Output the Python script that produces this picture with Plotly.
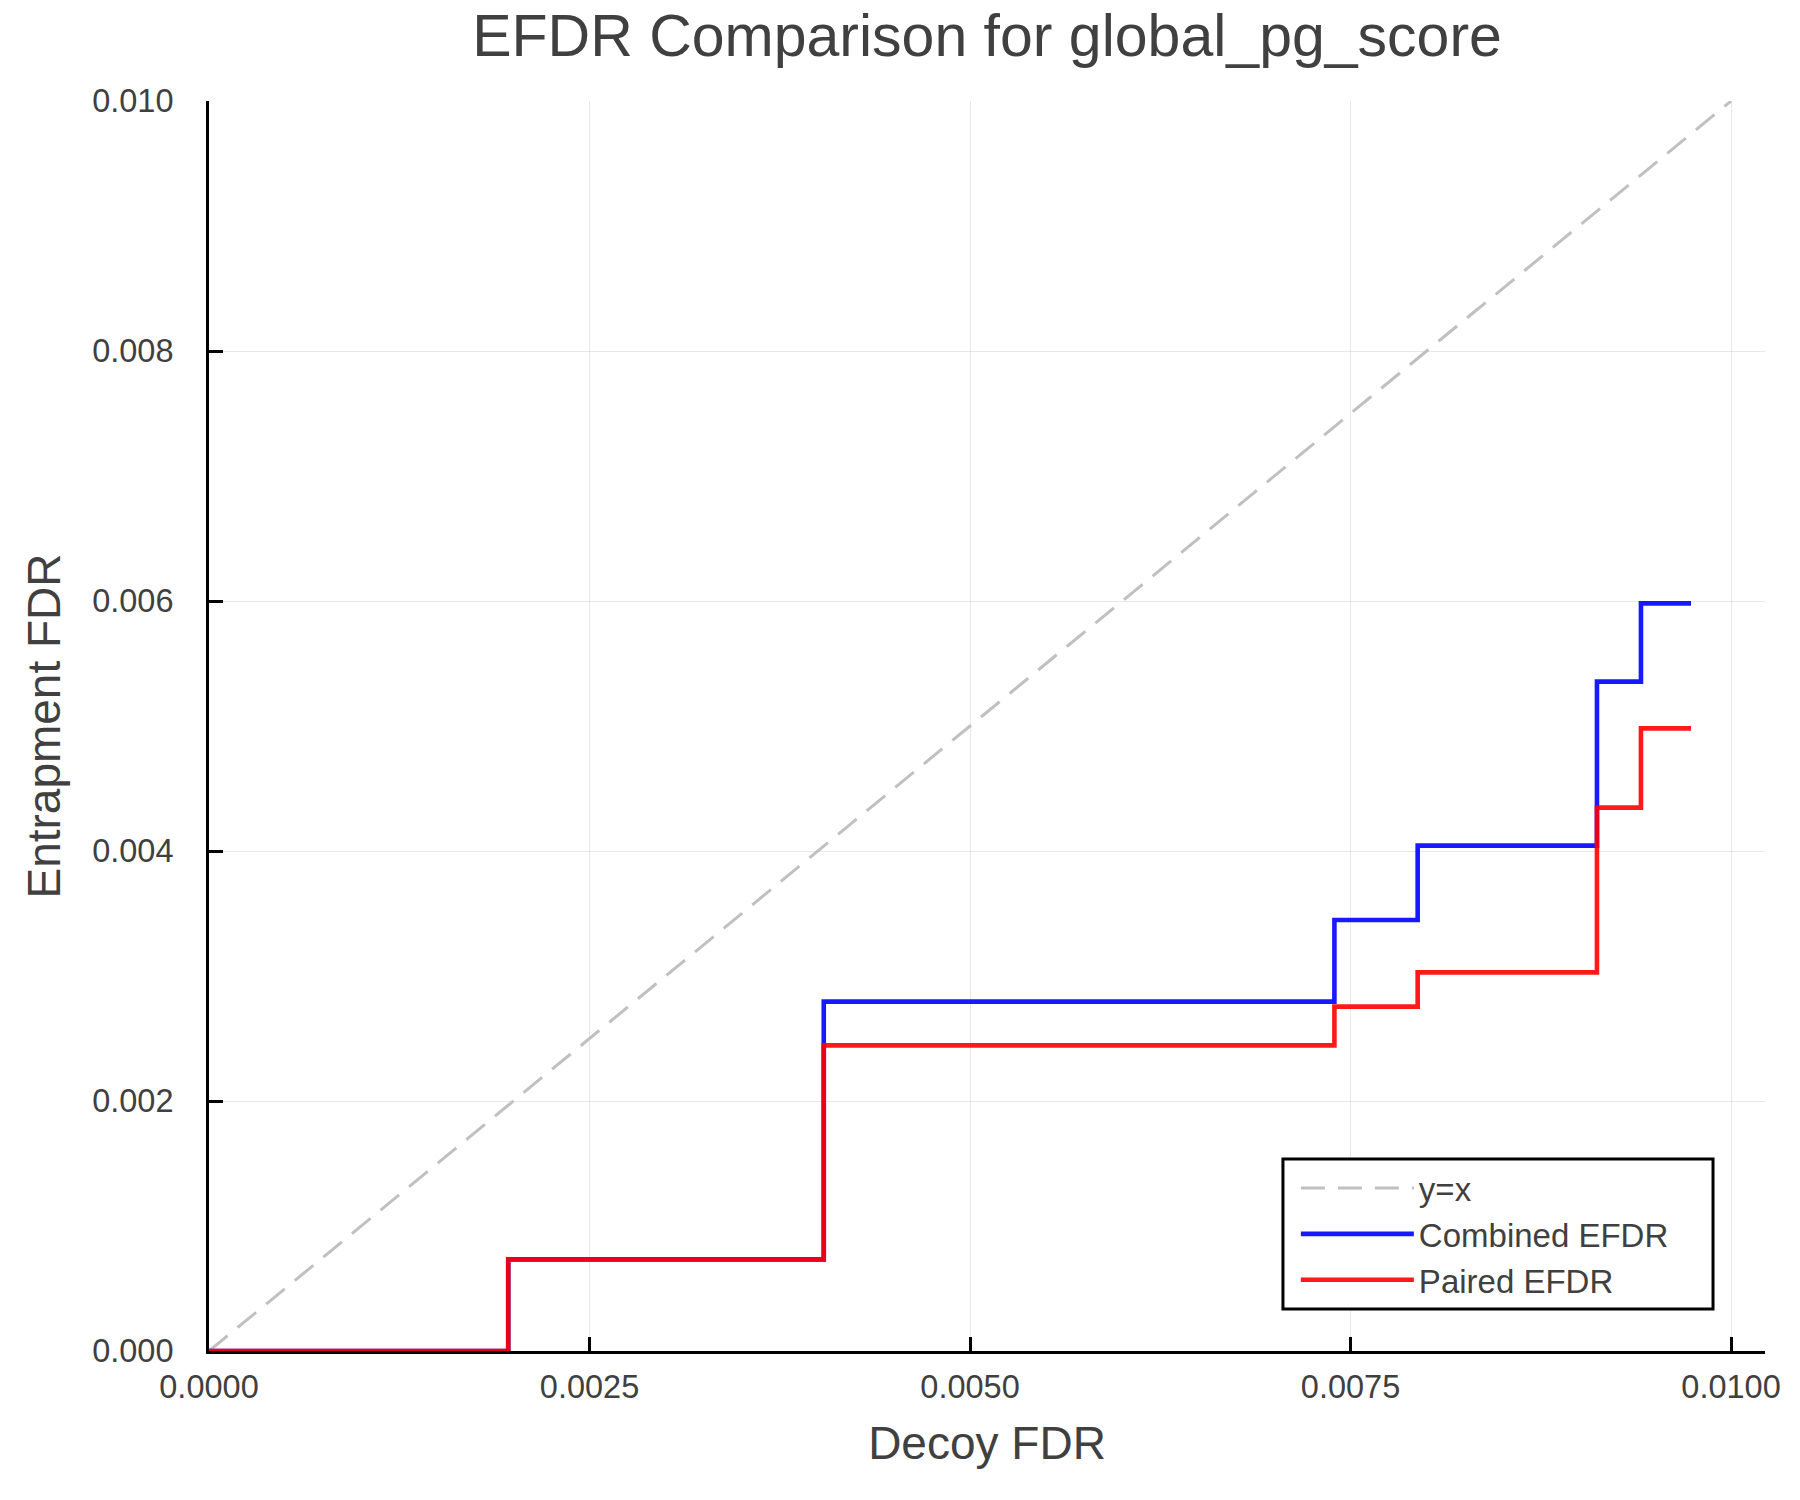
import plotly.graph_objects as go

# ---------------------------------------------------------------------------
# Data
# ---------------------------------------------------------------------------
decoy_fdr    = [0.0, 0.001966, 0.004039, 0.007394, 0.007941, 0.009119, 0.009408, 0.009737]
combined_fdr = [0.0, 0.000733, 0.002795, 0.003448, 0.004043, 0.005355, 0.005981, 0.005981]
paired_fdr   = [0.0, 0.000733, 0.002445, 0.002755, 0.003029, 0.004347, 0.004981, 0.004981]
diag_xy      = [0.0, 0.010]

x_ticks = [0.0, 0.0025, 0.0050, 0.0075, 0.0100]
y_ticks = [0.0, 0.002, 0.004, 0.006, 0.008, 0.010]

FONT = "Liberation Sans, Helvetica, Arial, sans-serif"
TEXT = "#404040"
GRID = "rgba(0,0,0,0.09)"

# page body has an 8px margin, so the figure is 8px smaller than the window
W, H = 1792, 1492

fig = go.Figure()
fig.add_trace(go.Scatter(
    x=diag_xy, y=diag_xy, mode="lines", name="y=x",
    line=dict(color="rgb(192,192,192)", width=3, dash="24px,13px"),
))
fig.add_trace(go.Scatter(
    x=decoy_fdr, y=combined_fdr, mode="lines", name="Combined EFDR",
    line=dict(color="rgba(0,0,255,0.9)", width=4.6, shape="hv"),
))
fig.add_trace(go.Scatter(
    x=decoy_fdr, y=paired_fdr, mode="lines", name="Paired EFDR",
    line=dict(color="rgba(255,0,0,0.9)", width=4.6, shape="hv"),
))

axis_common = dict(
    showline=True, linecolor="black", linewidth=3, mirror=False,
    ticks="inside", ticklen=14, tickwidth=2.5, tickcolor="black",
    showgrid=True, gridcolor=GRID, gridwidth=1.4, zeroline=False,
    tickfont=dict(family=FONT, size=32.5, color=TEXT),
)

fig.update_xaxes(
    **axis_common,
    range=[0, 0.010223], tickvals=x_ticks, tickformat=".4f",
    ticklabelstandoff=5,
    title=dict(text="Decoy FDR", font=dict(family=FONT, size=46, color=TEXT), standoff=23),
)
fig.update_yaxes(
    **axis_common,
    range=[0, 0.010], tickvals=y_ticks, tickformat=".3f",
    ticklabelstandoff=26,
    title=dict(text="Entrapment FDR", font=dict(family=FONT, size=46, color=TEXT), standoff=18),
)

# legend frame (opaque, drawn over the grid)
fig.add_shape(
    type="rect", xref="paper", yref="paper",
    x0=0.6902, x1=0.9666, y0=0.0336, y1=0.1536,
    line=dict(color="black", width=3), fillcolor="white", layer="above",
)

fig.update_layout(
    width=W, height=H, autosize=False,
    paper_bgcolor="white", plot_bgcolor="white",
    margin=dict(l=201, r=35, t=93, b=149),
    title=dict(
        text="EFDR Comparison for global_pg_score",
        font=dict(family=FONT, size=59, color=TEXT),
        x=0.5, xref="paper", xanchor="center",
        y=1 - 7 / H, yref="container", yanchor="top",
    ),
    legend=dict(
        x=0.6985, y=0.0936, xanchor="left", yanchor="middle",
        borderwidth=0, bgcolor="rgba(0,0,0,0)",
        font=dict(family=FONT, size=33, color=TEXT),
        itemwidth=113,
    ),
    showlegend=True,
)

fig.write_html("out.html")
